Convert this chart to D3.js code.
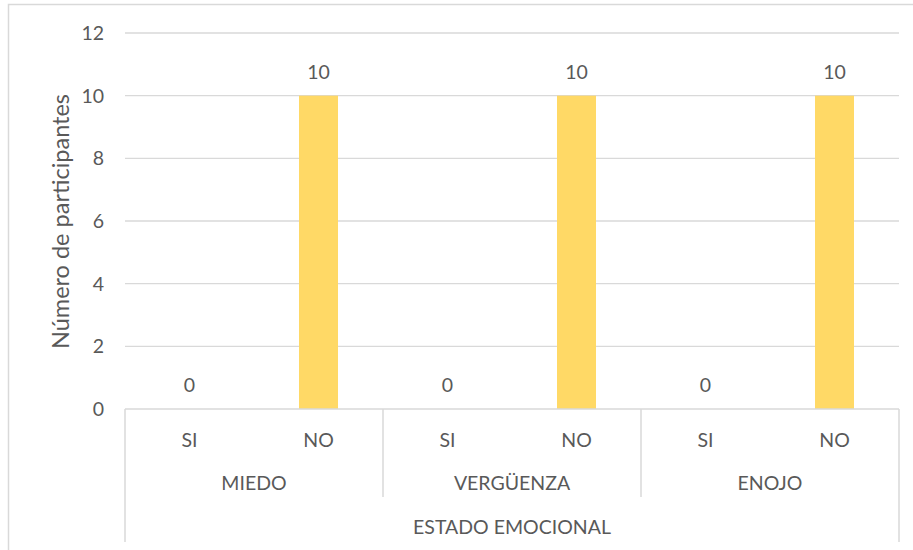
<!DOCTYPE html>
<html><head><meta charset="utf-8">
<script src="https://cdn.jsdelivr.net/npm/d3@7"></script>
<style>body{margin:0;background:#fff}svg{display:block}text{font-family:Lato,"Open Sans",sans-serif;fill:#595959}</style>
</head><body><svg id="c" width="913" height="550"></svg>
<script>
const groups = ["MIEDO", "VERGÜENZA", "ENOJO"];
const answers = ["SI", "NO"];
const values = [[0, 10], [0, 10], [0, 10]];
const yTicks = [0, 2, 4, 6, 8, 10, 12];
const axisTitle = "Número de participantes";
const outerTitle = "ESTADO EMOCIONAL";

const svg = d3.select("#c");
const m = {left:125, right:899, top:33, bottom:409};
const barColor = "#FFD966", gridColor = "#D9D9D9";
const fs = 19.5;

svg.append("rect").attr("x",8.5).attr("y",4.5).attr("width",1000).attr("height",1000)
  .attr("fill","none").attr("stroke","#D9D9D9").attr("stroke-width",1.5);

const y = d3.scaleLinear().domain([0,12]).range([m.bottom, m.top]);
const x0 = d3.scaleBand().domain(groups).range([m.left, m.right]);
const slot = d3.scaleBand().domain(answers).range([0, x0.bandwidth()]);

// gridlines
svg.append("g").selectAll("line").data(yTicks.filter(d=>d>0)).join("line")
  .attr("x1",m.left).attr("x2",m.right).attr("y1",d=>y(d)).attr("y2",d=>y(d))
  .attr("stroke",gridColor).attr("stroke-width",1.3);

// y labels
svg.append("g").selectAll("text").data(yTicks).join("text")
  .attr("x",104).attr("y",d=>y(d)).attr("dy","0.36em").attr("text-anchor","end")
  .attr("font-size",fs).text(d=>d);

svg.append("text").attr("transform",`translate(69,${(93+350)/2}) rotate(-90)`)
  .attr("text-anchor","middle").attr("font-size",23.5).text(axisTitle);

// bars
const flat = [];
groups.forEach((g,i)=>answers.forEach((a,j)=>flat.push({g,a,v:values[i][j]})));
const bw = 39;
const cx = d=>x0(d.g)+slot(d.a)+slot.bandwidth()/2;
svg.append("g").selectAll("rect").data(flat).join("rect")
  .attr("x",d=>cx(d)-bw/2)
  .attr("width",bw).attr("y",d=>y(d.v)).attr("height",d=>y(0)-y(d.v))
  .attr("fill",barColor);

svg.append("g").selectAll("text").data(flat).join("text")
  .attr("x",cx).attr("y",d=>y(d.v)-17).attr("text-anchor","middle").attr("font-size",fs).text(d=>d.v);

// category axis
const ax = svg.append("g").attr("stroke",gridColor).attr("stroke-width",1.5);
ax.append("line").attr("x1",m.left).attr("x2",m.right).attr("y1",m.bottom).attr("y2",m.bottom);
ax.append("line").attr("x1",m.left).attr("x2",m.left).attr("y1",m.bottom).attr("y2",542);
ax.append("line").attr("x1",m.right).attr("x2",m.right).attr("y1",m.bottom).attr("y2",542);
ax.selectAll(".sep").data(groups.slice(1)).join("line")
  .attr("x1",d=>x0(d)).attr("x2",d=>x0(d)).attr("y1",m.bottom).attr("y2",497);

svg.append("g").selectAll("text").data(flat).join("text")
  .attr("x",cx).attr("y",439.5).attr("dy","0.36em")
  .attr("text-anchor","middle").attr("font-size",fs).text(d=>d.a);
svg.append("g").selectAll("text").data(groups).join("text")
  .attr("x",d=>x0(d)+x0.bandwidth()/2).attr("y",483).attr("dy","0.36em")
  .attr("text-anchor","middle").attr("font-size",fs).text(d=>d);
svg.append("text").attr("x",(m.left+m.right)/2).attr("y",526.5).attr("dy","0.36em")
  .attr("text-anchor","middle").attr("font-size",fs).text(outerTitle);
</script></body></html>
